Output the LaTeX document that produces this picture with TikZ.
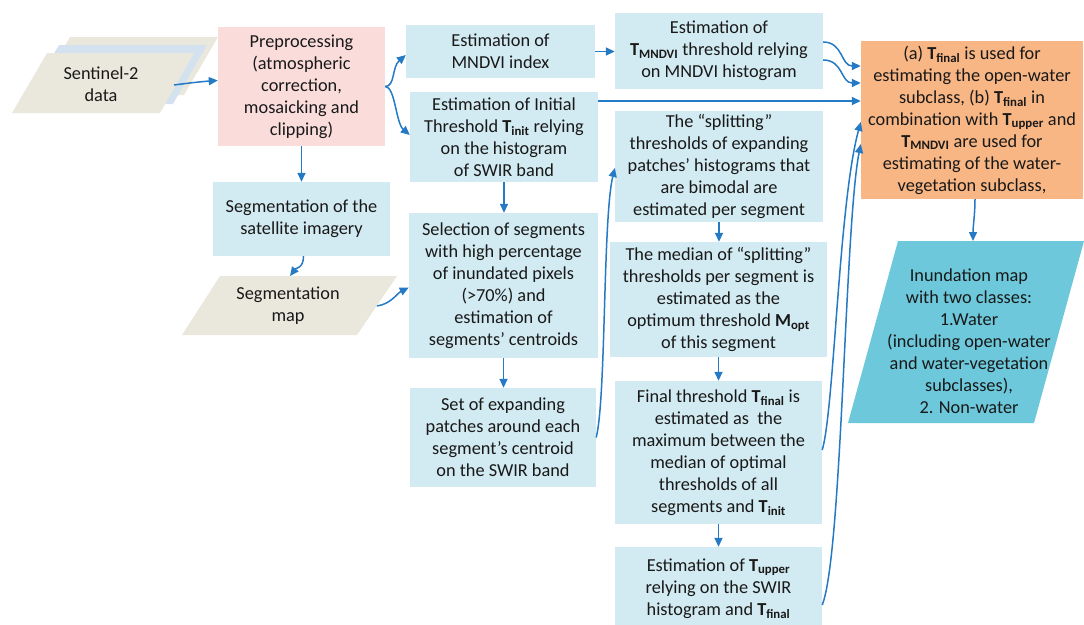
\documentclass[tikz,border=0pt]{standalone}
\usepackage{fontspec}
\setmainfont{Carlito}
\usetikzlibrary{arrows.meta}
\definecolor{boxblue}{RGB}{210,234,241}
\definecolor{pinkc}{RGB}{250,221,219}
\definecolor{beigec}{RGB}{234,232,220}
\definecolor{layerblue}{RGB}{212,226,240}
\definecolor{orangec}{RGB}{248,182,132}
\definecolor{inundc}{RGB}{108,200,218}
\definecolor{arrowblue}{RGB}{36,122,196}
\definecolor{txt}{RGB}{25,25,25}
\newcommand{\Tsb}[1]{\textbf{T}\textsubscript{\textbf{#1}}}
\newcommand{\Msb}[1]{\textbf{M}\textsubscript{\textbf{#1}}}
\begin{document}
\begin{tikzpicture}[x=1pt,y=-1pt,
  box/.style={fill=boxblue, draw=none, align=center, inner sep=0pt, text=txt, font=\fontsize{18.3}{22}\selectfont},
  lbl/.style={draw=none, align=center, inner sep=0pt, text=txt, font=\fontsize{18.3}{22}\selectfont},
  arr/.style={draw=arrowblue, line width=1.5pt, -{Triangle[length=9pt,width=8pt]}}]
\useasboundingbox (0,0) rectangle (1084,624);

% Sentinel-2 stacked parallelograms
\fill[beigec] (70,37) -- (218,37) -- (184,95) -- (36,95) -- cycle;
\fill[layerblue] (59,45) -- (207,45) -- (173,104) -- (24,104) -- cycle;
\fill[beigec] (47,53) -- (194,53) -- (160,113) -- (12,113) -- cycle;
\node[lbl] (s2) at (101,84) {Sentinel-2\\data};
\coordinate (s2out) at (174,85);

% Segmentation map parallelogram
\fill[beigec] (220,276) -- (397,276) -- (357,335) -- (182,335) -- cycle;
\node[lbl] (segmap) at (288,306) {Segmentation\\map};
\coordinate (segmapT) at (290,276);
\coordinate (segmapR) at (377,306);

% Inundation map parallelogram
\fill[inundc] (898,241) -- (1084,241) -- (1034,423) -- (848,423) -- cycle;
\node[lbl] (inund) at (969,341) {Inundation map\\with two classes:\\1.Water\\(including open-water\\and water-vegetation\\subclasses),\\2. Non-water};
\coordinate (inundT) at (973,241);

% Boxes
\node[box, fill=pinkc, minimum width=167pt, minimum height=119pt] (pre) at (301.5,86.5) {Preprocessing\\(atmospheric\\correction,\\mosaicking and\\clipping)};
\node[box, minimum width=177pt, minimum height=74pt] (seg) at (301.5,219) {Segmentation of the\\satellite imagery};
\node[box, minimum width=189pt, minimum height=53pt] (mndvi) at (500.5,51.5) {Estimation of\\MNDVI index};
\node[box, minimum width=188pt, minimum height=90pt] (init) at (504,137) {Estimation of Initial\\Threshold \Tsb{init} relying\\on the histogram\\of SWIR band};
\node[box, minimum width=189pt, minimum height=145pt] (sel) at (503.5,285.5) {Selection of segments\\with high percentage\\of inundated pixels\\(>70\%) and\\estimation of\\segments’ centroids};
\node[box, minimum width=186pt, minimum height=99pt] (set) at (503,437.5) {Set of expanding\\patches around each\\segment’s centroid\\on the SWIR band};
\node[box, minimum width=208pt, minimum height=76pt] (tm) at (719,51) {Estimation of\\\Tsb{MNDVI} threshold relying\\on MNDVI histogram};
\node[box, minimum width=208pt, minimum height=111pt] (split) at (719,166.5) {The “splitting”\\thresholds of expanding\\patches’ histograms that\\are bimodal are\\estimated per segment};
\node[box, minimum width=217pt, minimum height=115pt] (med) at (718.5,299.5) {The median of “splitting”\\thresholds per segment is\\estimated as the\\optimum threshold \Msb{opt}\\of this segment};
\node[box, minimum width=207pt, minimum height=143pt] (fin) at (718.5,452.5) {Final threshold \Tsb{final} is\\estimated as\ \ the\\maximum between the\\median of optimal\\thresholds of all\\segments and \Tsb{init}};
\node[box, minimum width=207pt, minimum height=83pt] (up) at (718.5,588.5) {Estimation of \Tsb{upper}\\relying on the SWIR\\histogram and \Tsb{final}};
\node[box, fill=orangec, minimum width=222pt, minimum height=158pt] (ora) at (972,120) {(a) \Tsb{final} is used for\\estimating the open-water\\subclass, (b) \Tsb{final} in\\combination with \Tsb{upper} and\\\Tsb{MNDVI} are used for\\estimating of the water-\\vegetation subclass,};

% Connectors
\draw[arr] (s2out) .. controls +(15,-2) and +(-15,1) .. ([yshift=6pt]pre.west);
\draw[arr] (pre.east) .. controls +(10,0) and +(-14,12) .. ([yshift=-3.5pt]mndvi.west);
\draw[arr] (pre.east) .. controls +(10,0) and +(-14,-12) .. ([yshift=2pt]init.west);
\draw[arr] (pre.south) -- (seg.north);
\draw[arr] ([xshift=2pt]seg.south) .. controls +(0,12) and +(6,-8) .. (segmapT);
\draw[arr] (segmapR) .. controls +(14,-2) and +(-12,6) .. ([yshift=-2pt]sel.west);
\draw[arr] (mndvi.east) -- (mndvi.east -| tm.west);
\draw[arr] (init.south) -- (init.south |- sel.north);
\draw[arr] (sel.south) -- (sel.south |- set.north);
\draw[arr] (set.east) .. controls +(10,-40) and +(-12,50) .. ([yshift=-1.5pt]split.west);
\draw[arr] (split.south) -- (split.south |- med.north);
\draw[arr] (med.south) -- (med.south |- fin.north);
\draw[arr] (fin.south) -- (fin.south |- up.north);
\draw[arr] ([yshift=9pt]tm.east) .. controls +(20,0) and +(-20,0) .. ([yshift=54pt]ora.west);
\draw[arr] ([yshift=-9pt]tm.east) .. controls +(20,0) and +(-20,0) .. ([yshift=37pt]ora.west);
\draw[arr] ([yshift=36pt]init.east) -- ([yshift=19pt]ora.west);
\draw[arr] ([yshift=2.5pt]fin.east) .. controls +(12,-40) and +(-22,80) .. ([yshift=-2pt]ora.west);
\draw[arr] ([yshift=-16.5pt]up.east) .. controls +(20,-50) and +(-16,80) .. ([yshift=-24pt]ora.west);
\draw[arr] ([xshift=3pt]ora.south) .. controls +(0,15) and +(0,-15) .. (inundT);
\end{tikzpicture}
\end{document}
